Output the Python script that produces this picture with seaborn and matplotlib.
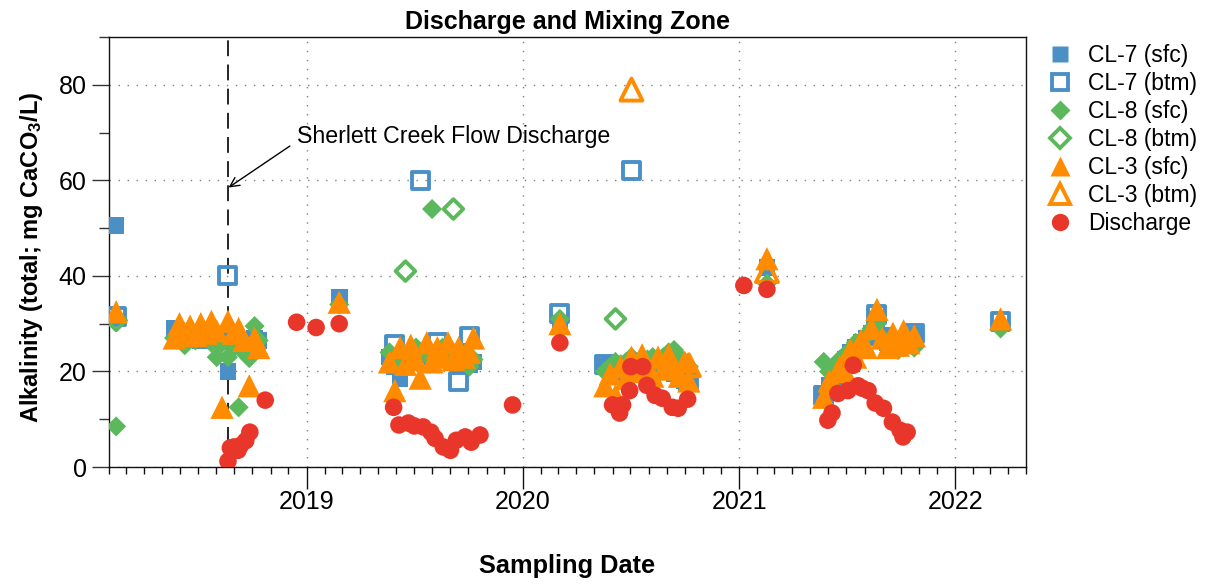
import numpy as np
import pandas as pd
import matplotlib
matplotlib.use("Agg")
import matplotlib.pyplot as plt
import matplotlib.dates as mdates
from matplotlib.ticker import MultipleLocator
from matplotlib.lines import Line2D
import seaborn as sns

# ---------------- data ----------------
N = None
d_feb18 = ['2018-02-13']
d_sum18 = ['2018-05-22', '2018-05-31', '2018-06-09', '2018-06-18', '2018-06-27', '2018-07-06',
           '2018-07-15', '2018-07-24', '2018-08-02', '2018-08-11', '2018-08-21', '2018-08-30',
           '2018-09-08', '2018-09-17', '2018-09-26', '2018-10-05', '2018-10-12']
d_feb19 = ['2019-02-25']
d_sum19 = ['2019-05-21', '2019-05-30', '2019-06-08', '2019-06-17', '2019-06-26', '2019-07-05',
           '2019-07-12', '2019-07-23', '2019-08-01', '2019-08-10', '2019-08-19', '2019-08-28',
           '2019-09-06', '2019-09-15', '2019-09-24', '2019-10-03', '2019-10-10']
d_mar20 = ['2020-03-04']
d_sum20 = ['2020-05-19', '2020-05-28', '2020-06-06', '2020-06-15', '2020-06-24', '2020-07-03',
           '2020-07-12', '2020-07-21', '2020-07-30', '2020-08-08', '2020-08-17', '2020-08-26',
           '2020-09-04', '2020-09-13', '2020-09-22', '2020-10-01', '2020-10-08']
d_feb21 = ['2021-02-17']
d_sum21 = ['2021-05-24', '2021-06-02', '2021-06-11', '2021-06-20', '2021-06-29', '2021-07-08',
           '2021-07-17', '2021-07-26', '2021-08-04', '2021-08-13', '2021-08-22', '2021-08-31',
           '2021-09-09', '2021-09-18', '2021-09-27', '2021-10-06', '2021-10-15', '2021-10-24']
d_mar22 = ['2022-03-19']
lake_dates = d_feb18 + d_sum18 + d_feb19 + d_sum19 + d_mar20 + d_sum20 + d_feb21 + d_sum21 + d_mar22

cl7_sfc = ([50.5]
           + [29, 26.5, 27, 27.5, 27, 26.5, 27, 27.5, 27, 26.5, 20, 27, 26.5, 26, 26.5, 27, 26.5]
           + [35.5]
           + [23, 21, 18.5, 22, 23, 24, 23.5, 24, 23, 24, 24.5, 23.5, 24, 23, 22.5, 21.5, 22]
           + [30]
           + [21, 21.5, 20, 19, 18, 20, 21, 20.5, 21, 20, 22, 21, 20, 19.5, 19, 18, 17.5]
           + [41.8]
           + [15.5, 17, 19, 21, 22.5, 24, 25, 26, 27, 28, 31, 27.5, 26, 25.5, 26, 26.5, 27, 27.5]
           + [N])
cl7_btm = ([31.5]
           + [N, N, N, N, N, N, N, N, N, N, 40, N, N, N, N, N, N]
           + [N]
           + [N, 25.7, N, N, N, N, 60, N, N, 26, N, N, N, 18, N, 27.3, N]
           + [32.2]
           + [21.5, N, N, N, N, 62, N, N, N, N, N, N, N, N, N, N, 18]
           + [N]
           + [15, N, N, N, N, N, N, N, N, N, 32, N, N, N, N, N, N, 28]
           + [30.5])
cl8_sfc = ([8.5]
           + [27, 28, 25.5, 27, 26.5, 27, 27, 26, 23, 26, 23, 25, 12.5, 24, 22.8, 29.5, 26.5]
           + [34]
           + [24, 22.5, 22, 23, 24.5, 25, 24, 23.5, 54, 24, 25, 24.5, 24, 23.5, 23, 21, 22.5]
           + [31]
           + [20, 21, 22, 21.5, 22, 23, 22, 21, 22.5, 23, 22, 23, 24, 24.5, 23, 22, 21]
           + [38.4]
           + [22, 20, 21, 22.5, 23.5, 24.5, 26, 25, 27.5, 29, 30, 27, 25.5, 25, 24.5, 25, 26, 25]
           + [29])
cl8_btm = ([30.7]
           + [N] * 17
           + [N]
           + [N, N, N, 41, N, N, N, N, N, N, N, N, 54, N, N, N, N]
           + [N]
           + [N, N, 31, N, N, N, N, N, N, N, N, N, N, N, N, N, N]
           + [N]
           + [N] * 18
           + [N])
cl3_sfc = ([32.5]
           + [27, 30, 28, 29.5, 27.5, 30, 28, 30.5, 28.5, 12.5, 30.5, 28, 29, 26.5, 17, 27, 25]
           + [34.5]
           + [22, 16, 25, 21.5, 25.5, 22.5, 18.6, 26, 22, 25, 23, 26, 22.5, 25, 23, 24, 27]
           + [30]
           + [17, 19.5, 15, 21, 18.5, 23, 20, 23.5, 21, 19, 23, 20.5, 23.5, 21, 19, 22, 18]
           + [43.6]
           + [14.6, 18, 17, 21, 20, 24.5, 23, 26.5, 25, 29, 33, 27, 25, 28, 25.5, 28.5, 26, 27.5]
           + [31])
cl3_btm = ([N]
           + [N] * 17
           + [N]
           + [N] * 17
           + [N]
           + [N, N, N, N, N, 79, N, N, N, N, N, N, N, N, N, N, 21.3]
           + [41]
           + [N] * 18
           + [N])

dis_dates = ['2018-08-21', '2018-08-25', '2018-08-31', '2018-09-07', '2018-09-11', '2018-09-20',
             '2018-09-27', '2018-10-23', '2018-12-15', '2019-01-17', '2019-02-25',
             '2019-05-28', '2019-06-06', '2019-06-22', '2019-07-02', '2019-07-17', '2019-07-30',
             '2019-08-06', '2019-08-20', '2019-09-01', '2019-09-11', '2019-09-26', '2019-10-06',
             '2019-10-21', '2019-12-15',
             '2020-03-04',
             '2020-06-01', '2020-06-08', '2020-06-13', '2020-06-18', '2020-06-30', '2020-07-02',
             '2020-07-22', '2020-07-29', '2020-08-12', '2020-08-24', '2020-09-10', '2020-09-20',
             '2020-10-06',
             '2021-01-09', '2021-02-17',
             '2021-05-31', '2021-06-07', '2021-06-17', '2021-07-04', '2021-07-13', '2021-07-21',
             '2021-07-28', '2021-08-07', '2021-08-19', '2021-09-02', '2021-09-17', '2021-09-30',
             '2021-10-05', '2021-10-12']
dis_vals = [1.2, 4, 4.2, 3.5, 4.5, 5.5, 7.3, 14, 30.3, 29.2, 30,
            12.5, 8.8, 9.2, 8.6, 8.4, 7.3, 6, 4.2, 3.5, 5.6, 6.3, 5.2, 6.7, 13,
            26,
            13, 12.7, 11.3, 13, 16, 21, 21, 17.1, 15, 14.4, 12.5, 12.3, 14.2,
            38, 37.2,
            9.8, 11.3, 15.4, 16, 21.3, 17, 16.5, 16, 13.4, 12.3, 9.4, 7.7, 6.3, 7.3]

series_labels = ['CL-7 (sfc)', 'CL-7 (btm)', 'CL-8 (sfc)', 'CL-8 (btm)',
                 'CL-3 (sfc)', 'CL-3 (btm)', 'Discharge']

discharge_date = '2018-08-21'
annot_text = 'Sherlett Creek Flow Discharge'

# ---------------- styles ----------------
BLUE = '#4a90c6'
GREEN = '#5cb85c'
ORANGE = '#ff8c00'
RED = '#e8362a'
styles = {
    'CL-7 (sfc)': dict(marker='s', color=BLUE, filled=True, s=144, ms=12),
    'CL-7 (btm)': dict(marker='s', color=BLUE, filled=False, s=150, ms=11.5),
    'CL-8 (sfc)': dict(marker='D', color=GREEN, filled=True, s=105, ms=10.5),
    'CL-8 (btm)': dict(marker='D', color=GREEN, filled=False, s=100, ms=10),
    'CL-3 (sfc)': dict(marker='^', color=ORANGE, filled=True, s=280, ms=15),
    'CL-3 (btm)': dict(marker='^', color=ORANGE, filled=False, s=250, ms=14.5),
    'Discharge': dict(marker='o', color=RED, filled=True, s=160, ms=12.5),
}

rows = []
for lab, vals in zip(series_labels[:6], [cl7_sfc, cl7_btm, cl8_sfc, cl8_btm, cl3_sfc, cl3_btm]):
    for d, v in zip(lake_dates, vals):
        if v is not None:
            rows.append((lab, d, v))
for d, v in zip(dis_dates, dis_vals):
    rows.append(('Discharge', d, v))
df = pd.DataFrame(rows, columns=['series', 'date', 'value'])
df['date'] = pd.to_datetime(df['date'])

# ---------------- plot ----------------
sns.set_style('ticks')
plt.rcParams['font.family'] = ['Liberation Sans', 'DejaVu Sans']
plt.rcParams['mathtext.fontset'] = 'custom'
plt.rcParams['mathtext.rm'] = 'Liberation Sans'
plt.rcParams['mathtext.bf'] = 'Liberation Sans:bold'
plt.rcParams['mathtext.it'] = 'Liberation Sans:italic'
for k in ['text.color', 'axes.labelcolor', 'xtick.color', 'ytick.color']:
    plt.rcParams[k] = 'black'

fig = plt.figure(figsize=(12.05, 5.84), dpi=100)
ax = fig.add_axes([0.0905, 0.2003, 0.7610, 0.7363])

for lab in series_labels:
    st = styles[lab]
    sub = df[df['series'] == lab]
    if st['filled']:
        sns.scatterplot(data=sub, x='date', y='value', ax=ax, marker=st['marker'], s=st['s'],
                        color=st['color'], edgecolor='none', linewidth=0, legend=False, zorder=3)
    else:
        sns.scatterplot(data=sub, x='date', y='value', ax=ax, marker=st['marker'], s=st['s'],
                        color=st['color'], facecolor='none', edgecolor=st['color'],
                        linewidth=2.8, legend=False, zorder=3)

ax.set_xlim(pd.Timestamp('2018-02-01'), pd.Timestamp('2022-05-01'))
ax.set_ylim(0, 90)

ax.xaxis.set_major_locator(mdates.YearLocator())
ax.xaxis.set_major_formatter(mdates.DateFormatter('%Y'))
ax.xaxis.set_minor_locator(mdates.MonthLocator())
ax.yaxis.set_major_locator(MultipleLocator(20))
ax.yaxis.set_minor_locator(MultipleLocator(10))

ax.tick_params(axis='x', which='major', length=15.5, width=1, labelsize=18, pad=1,
               direction='out', color='#111111', labelcolor='black')
ax.tick_params(axis='x', which='minor', length=5.3, width=1, direction='out', color='#111111')
ax.tick_params(axis='y', which='major', length=12, width=1, labelsize=18, pad=4,
               direction='out', color='#333333', labelcolor='black')
ax.tick_params(axis='y', which='minor', length=7, width=1, direction='out', color='#333333')

for sp in ax.spines.values():
    sp.set_visible(True)
    sp.set_linewidth(1)
    sp.set_color('#111111')

ax.grid(True, which='major', color='#808080', linestyle=(0, (1, 5.5)), linewidth=1)
ax.set_axisbelow(True)

ax.axvline(pd.Timestamp(discharge_date), color='black', lw=1.2, dashes=(9.5, 5), zorder=2)
ax.annotate(annot_text, xy=(pd.Timestamp('2018-08-22'), 58.5),
            xytext=(pd.Timestamp('2018-12-15'), 69.1), ha='left', va='center', fontsize=16.7,
            color='black',
            arrowprops=dict(arrowstyle='->', color='black', lw=1, shrinkA=3, shrinkB=0,
                            relpos=(0, 0.3)))

ax.set_title('Discharge and Mixing Zone', fontsize=18, fontweight='bold', pad=6, color='black')
ax.set_ylabel(r'Alkalinity (total; mg CaCO$_\mathbf{3}$/L)', fontsize=17, fontweight='bold',
              color='black')
ax.set_xlabel('Sampling Date', fontsize=18.3, fontweight='bold', color='black')
ax.xaxis.set_label_coords(0.5, -0.203)
ax.yaxis.set_label_coords(-0.07, 0.488)

handles = []
for lab in series_labels:
    st = styles[lab]
    if st['filled']:
        h = Line2D([], [], linestyle='none', marker=st['marker'], markersize=st['ms'],
                   markerfacecolor=st['color'], markeredgecolor='none')
    else:
        h = Line2D([], [], linestyle='none', marker=st['marker'], markersize=st['ms'],
                   markerfacecolor='none', markeredgecolor=st['color'], markeredgewidth=2.8)
    handles.append(h)
leg = ax.legend(handles, series_labels, loc='upper left', bbox_to_anchor=(1.0, 1.031),
                frameon=False, fontsize=16.5, handlelength=1.2, handletextpad=0.6,
                labelspacing=0.215, borderaxespad=0.5)
for t in leg.get_texts():
    t.set_color('black')

fig.savefig('out.png', dpi=100)
